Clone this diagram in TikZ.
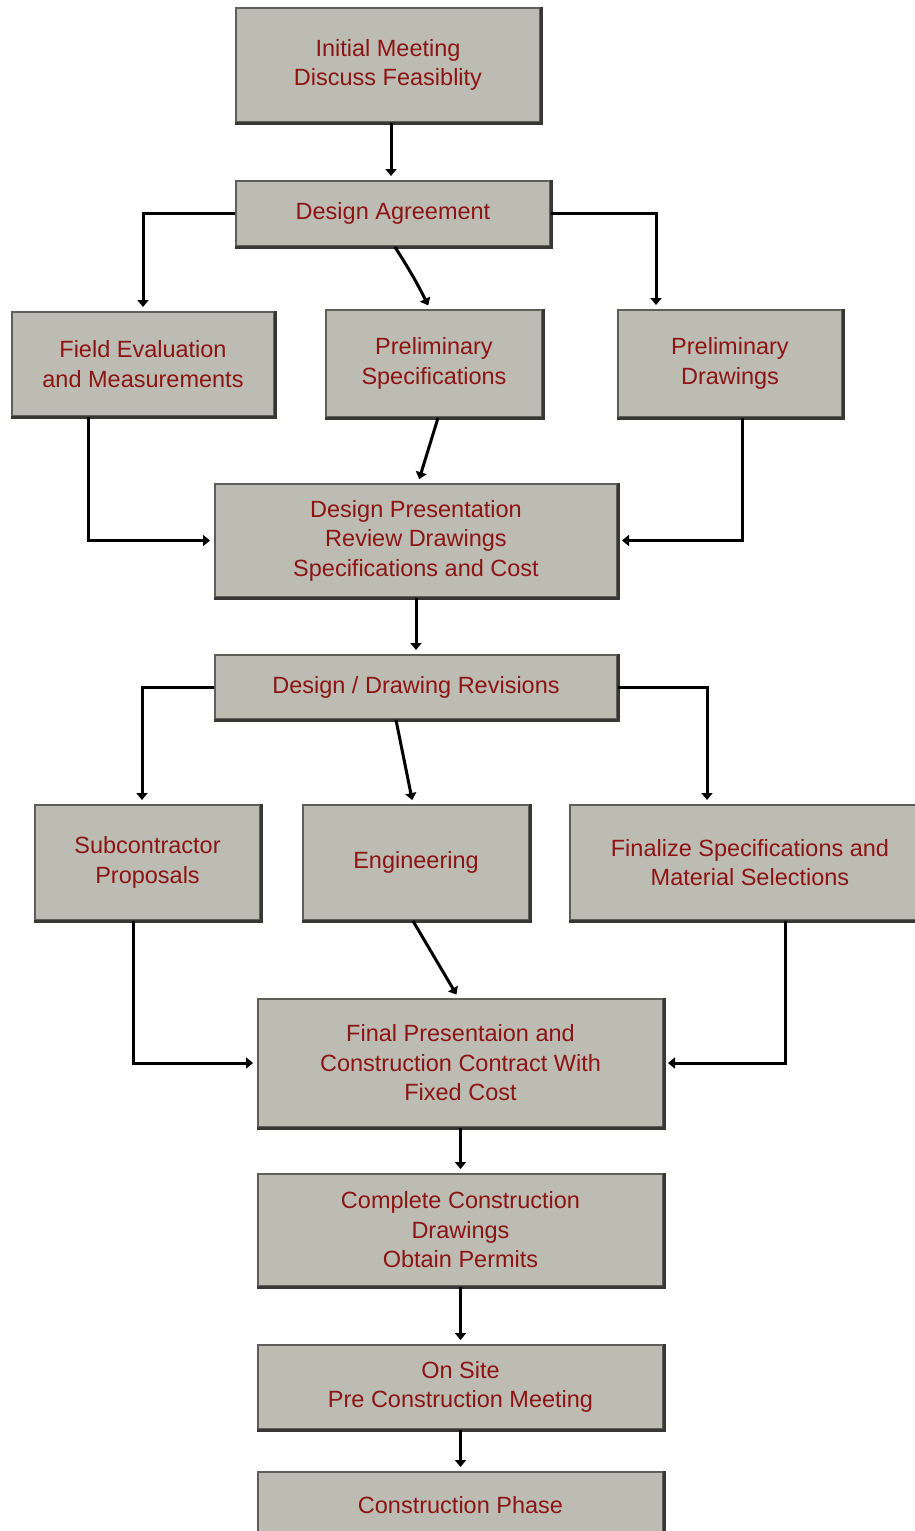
\documentclass[tikz,border=0pt]{standalone}
\usepackage{fontspec}
\setmainfont{Liberation Sans}
\usetikzlibrary{arrows.meta}
\definecolor{boxfill}{RGB}{189,188,179}
\definecolor{boxline}{RGB}{95,95,90}
\definecolor{boxdark}{RGB}{55,55,52}
\definecolor{txt}{RGB}{140,20,20}
\tikzset{
  box/.style={rectangle, draw=boxline, line width=2pt, fill=boxfill, text=txt,
    align=center, inner sep=0pt, font=\fontsize{23.5}{29.5}\selectfont},
  conn/.style={draw=black, line width=3pt,
    -{Triangle[width=11pt,length=7pt]}, shorten >=4pt},
  shade edge/.style={draw=boxdark, line width=3pt}
}
\begin{document}
\begin{tikzpicture}[x=1pt,y=-1pt]
\useasboundingbox (0,0) rectangle (914,1531);
\fill[white] (0,0) rectangle (914,1531);

\node[box, minimum width=304, minimum height=114] (im) at (388,65) {Initial Meeting\\Discuss Feasiblity};
\node[box, minimum width=314, minimum height=65] (da) at (393,213.5) {Design Agreement};
\node[box, minimum width=262, minimum height=104] (fe) at (143,364) {Field Evaluation\\and Measurements};
\node[box, minimum width=216, minimum height=107] (ps) at (434,363.5) {Preliminary\\Specifications};
\node[box, minimum width=224, minimum height=107] (pd) at (730,363.5) {Preliminary\\Drawings};
\node[box, minimum width=402, minimum height=113] (dp) at (416,540.5) {Design Presentation\\Review Drawings\\Specifications and Cost};
\node[box, minimum width=402, minimum height=64] (ddr) at (416,687) {Design / Drawing Revisions};
\node[box, minimum width=225, minimum height=115] (sp) at (147.5,862.5) {Subcontractor\\Proposals};
\node[box, minimum width=226, minimum height=115] (en) at (416,862.5) {Engineering};
\node[box, minimum width=360, minimum height=115] (fs) at (750,862.5) {Finalize Specifications and\\Material Selections};
\node[box, minimum width=405, minimum height=128] (fp) at (460.5,1063) {Final Presentaion and\\Construction Contract With\\Fixed Cost};
\node[box, minimum width=405, minimum height=112] (cc) at (460.5,1230) {Complete Construction\\Drawings\\Obtain Permits};
\node[box, minimum width=405, minimum height=84] (os) at (460.5,1387) {On Site\\Pre Construction Meeting};
\node[box, minimum width=405, minimum height=66] (cp) at (460.5,1505) {Construction Phase};

\foreach \n in {im,da,fe,ps,pd,dp,ddr,sp,en,fs,fp,cc,os,cp}
  \draw[shade edge] (\n.south west) -- (\n.south east) -- (\n.north east);

\draw[conn] ([xshift=3]im.south) -- ([xshift=-2]da.north);
\draw[conn] (da.west) -| (fe.north);
\draw[conn] ([xshift=2]da.south) to[bend left=3] ([xshift=-4]ps.north);
\draw[conn] (da.east) -| ([xshift=-74]pd.north);
\draw[conn] ([xshift=-55]fe.south) |- (dp.west);
\draw[conn] ([xshift=4]ps.south) -- ([xshift=2]dp.north);
\draw[conn] ([xshift=12]pd.south) |- (dp.east);
\draw[conn] (dp.south) -- (ddr.north);
\draw[conn] (ddr.west) -| ([xshift=-5.5]sp.north);
\draw[conn] ([xshift=-20]ddr.south) -- ([xshift=-3]en.north);
\draw[conn] (ddr.east) -| ([xshift=-43]fs.north);
\draw[conn] ([xshift=-14.5]sp.south) |- (fp.west);
\draw[conn] ([xshift=-3]en.south) -- ([xshift=-2]fp.north);
\draw[conn] ([xshift=35]fs.south) |- (fp.east);
\draw[conn] (fp.south) -- (cc.north);
\draw[conn] (cc.south) -- (os.north);
\draw[conn] (os.south) -- (cp.north);
\end{tikzpicture}
\end{document}
